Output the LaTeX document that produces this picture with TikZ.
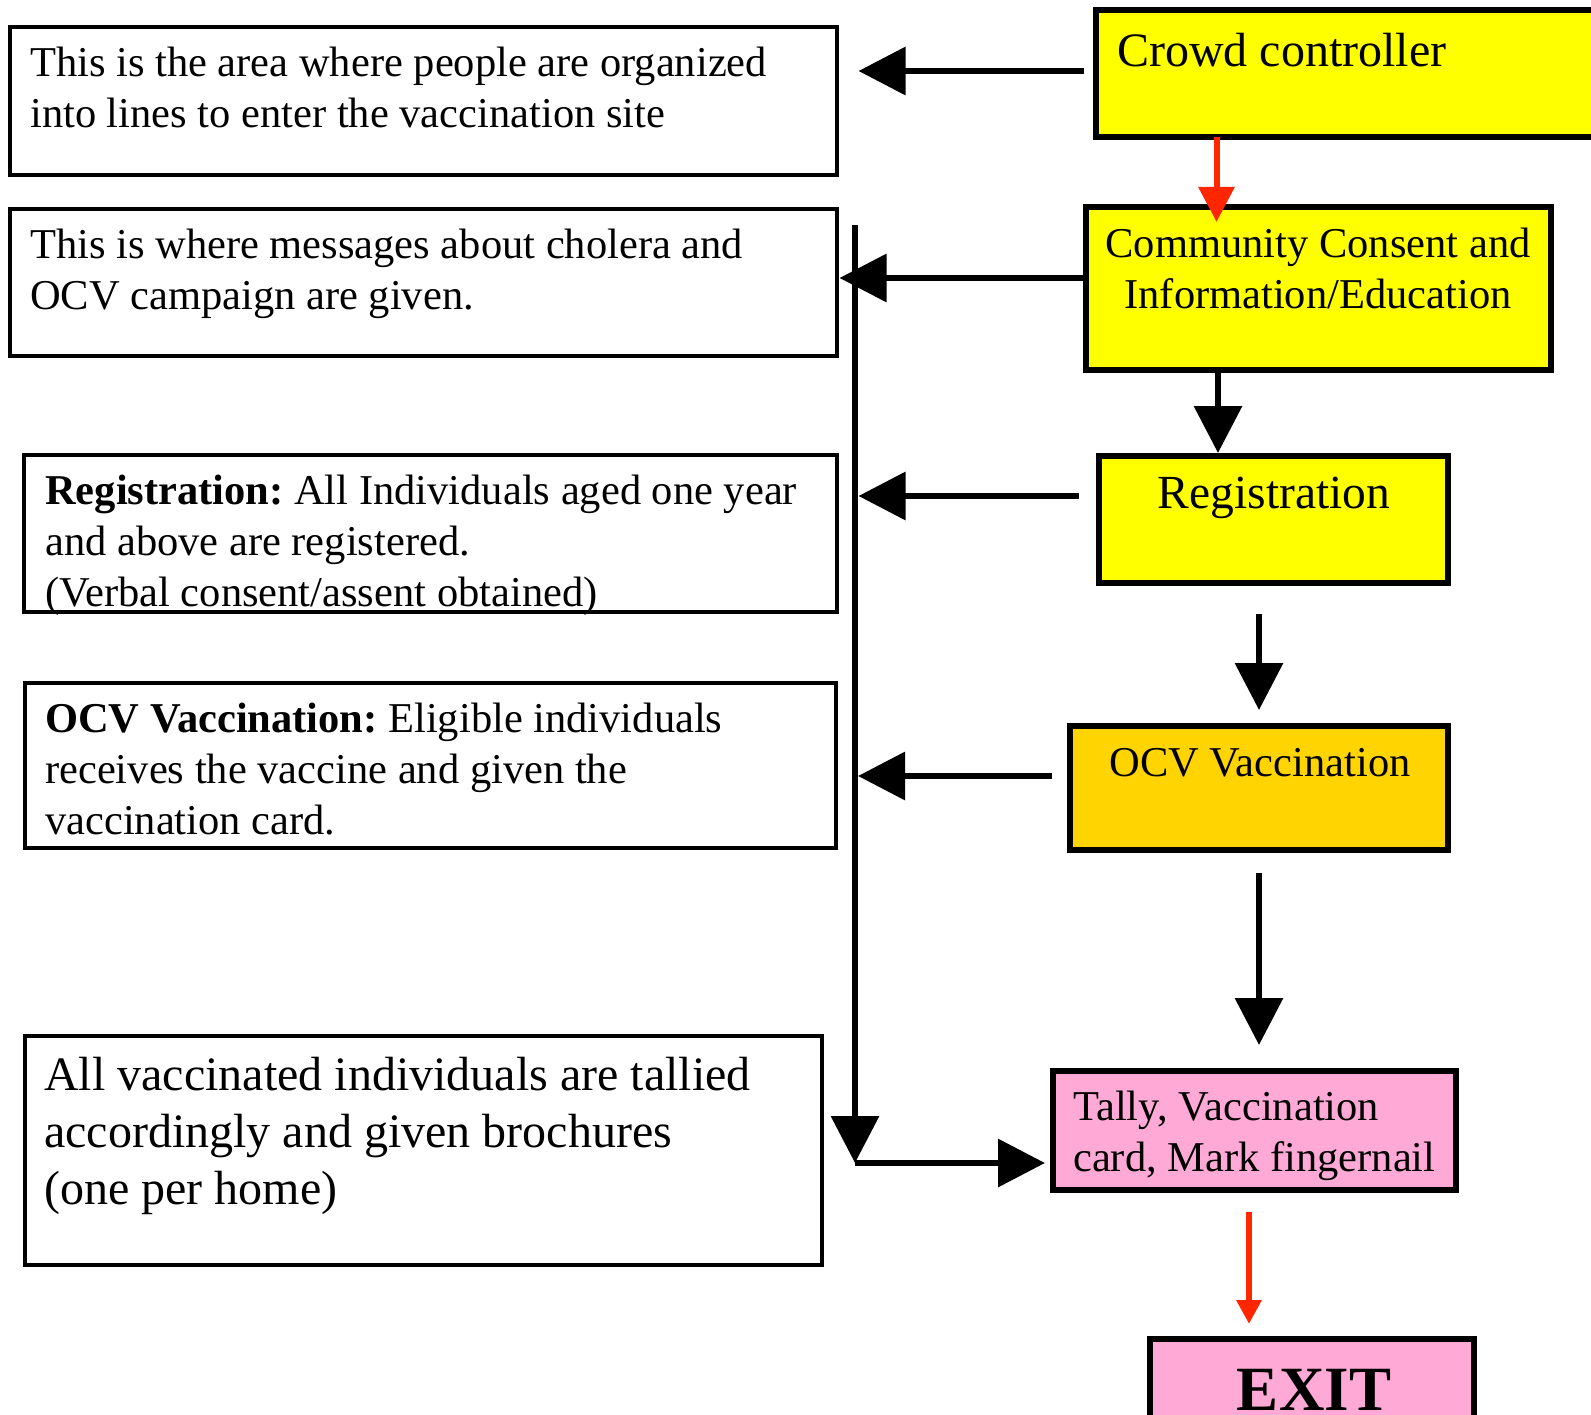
\documentclass[tikz,border=0pt]{standalone}
\usepackage{fontspec}
\setmainfont{Liberation Serif}
\usetikzlibrary{arrows.meta, calc}
\definecolor{stageyellow}{RGB}{255,255,0}
\definecolor{stagegold}{RGB}{255,212,0}
\definecolor{stagepink}{RGB}{255,170,214}
\definecolor{flowred}{RGB}{255,38,0}
\def\fs#1#2{\fontsize{#1bp}{#2bp}\selectfont}
\frenchspacing

\begin{document}
\begin{tikzpicture}[x=1bp, y=-1bp,
	infobox/.style={draw, line width=4bp, inner sep=0, outer sep=0},
	stagebox/.style={draw, line width=6bp, inner sep=0, outer sep=0},
	desc/.style={anchor=north west, inner sep=0, align=left, font=\fs{42.5}{51}},
	flow/.style={line width=6.5bp, -{Triangle[length=47bp, width=47bp]}},
	redflow/.style={flowred, line width=6bp, -{Triangle[length=35bp, width=35bp]}},
	]

	\useasboundingbox (0,0) rectangle (1591,1415);
	\fill[white] (0,0) rectangle (1591,1415);
	\clip (0,0) rectangle (1591,1415);

	% description boxes (left)
	\node[infobox, minimum width=826bp, minimum height=148bp] (area) at (423.5,101) {};
	\node[infobox, minimum width=826bp, minimum height=147bp] (msgs) at (423.5,282.5) {};
	\node[infobox, minimum width=812bp, minimum height=157bp] (regdesc) at (430.5,533.5) {};
	\node[infobox, minimum width=811bp, minimum height=165bp] (ocvdesc) at (430.5,765.5) {};
	\node[infobox, minimum width=797bp, minimum height=229bp] (tallydesc) at (423.5,1150.5) {};

	\node[desc] (areatxt) at (30,47) {This is the area where people are organized\\into lines to enter the vaccination site};
	\node[desc] (msgstxt) at (30,229) {This is where messages about cholera and\\OCV campaign are given.};
	\node[desc] (regtxt) at (45,475) {\textbf{Registration:} All Individuals aged one year\\and above are registered.\\(Verbal consent/assent obtained)};
	\node[desc] (ocvtxt) at (45,703) {\textbf{OCV Vaccination:} Eligible individuals\\receives the vaccine and given the\\vaccination card.};
	\node[desc, font=\fs{48}{57}] (tallytxt) at (44,1057) {All vaccinated individuals are tallied\\accordingly and given brochures\\(one per home)};

	% stations (right)
	\node[stagebox, fill=stageyellow, minimum width=542bp, minimum height=127bp] (crowd) at (1367,73.5) {};
	\node[stagebox, fill=stageyellow, minimum width=465bp, minimum height=163bp] (consent) at (1318.5,288.5) {};
	\node[stagebox, fill=stageyellow, minimum width=349bp, minimum height=127bp] (reg) at (1273.5,519.5) {};
	\node[stagebox, fill=stagegold, minimum width=378bp, minimum height=124bp] (ocv) at (1259,788) {};
	\node[stagebox, fill=stagepink, minimum width=403bp, minimum height=119bp] (tally) at (1254.5,1130.5) {};
	\node[stagebox, fill=stagepink, minimum width=324bp, minimum height=109bp] (exit) at (1312,1393.5) {};

	\node[anchor=north west, inner sep=0, font=\fs{48}{57}] (crowdlbl) at (1117,33) {Crowd controller};
	\node[anchor=north, inner sep=0, align=center, font=\fs{42.5}{51}] (consentlbl) at (1318,228) {Community Consent and\\Information/Education};
	\node[anchor=north, inner sep=0, font=\fs{47.5}{57}] (reglbl) at (1274,477) {Registration};
	\node[anchor=north, inner sep=0, font=\fs{42.5}{51}] (ocvlbl) at (1260,748) {OCV Vaccination};
	\node[desc] (tallylbl) at (1073,1091) {Tally, Vaccination\\card, Mark fingernail};
	\node[anchor=north, inner sep=0, font=\fs{63}{70}\bfseries] (exitlbl) at (1314,1369) {EXIT};

	% arrows to the descriptions
	\draw[flow, shorten <=12bp, shorten >=22bp] ([yshift=2.5bp]crowd.west) -- ([yshift=2.5bp]crowd.west -| area.east);
	\draw[flow, shorten <=3bp, shorten >=3bp] ([yshift=10.5bp]consent.west) -- ([yshift=10.5bp]consent.west -| msgs.east);
	\draw[flow, shorten <=20bp, shorten >=22bp] ([yshift=23.5bp]reg.west) -- ([yshift=23.5bp]reg.west -| regdesc.east);
	\draw[flow, shorten <=18bp, shorten >=22bp] ([yshift=12bp]ocv.west) -- ([yshift=12bp]ocv.west -| ocvdesc.east);

	% long line down to the tally
	\coordinate (jtop) at (855,225);
	\coordinate (jbot) at (855,1163);
	\draw[flow] (jtop) -- (jbot);
	\draw[flow, shorten >=8bp] (jbot) -- (jbot -| tally.west);

	% flow between stations
	\draw[redflow, shorten >=-15bp] ([xshift=-150.5bp]crowd.south) -- ([xshift=-150.5bp]crowd.south |- consent.north);
	\draw[flow, shorten >=3bp] ([xshift=-100.5bp]consent.south) -- ([xshift=-100.5bp]consent.south |- reg.north);
	\draw[flow, shorten <=31bp, shorten >=16bp] (reg.south -| ocv.north) -- (ocv.north);
	\draw[flow, shorten <=23bp, shorten >=26bp] (ocv.south) -- (ocv.south |- tally.north);
	\draw[redflow, -{Triangle[length=24bp, width=24bp]}, shorten <=22bp, shorten >=15bp] ([xshift=-5.5bp]tally.south) -- ([xshift=-5.5bp]tally.south |- exit.north);

\end{tikzpicture}
\end{document}
